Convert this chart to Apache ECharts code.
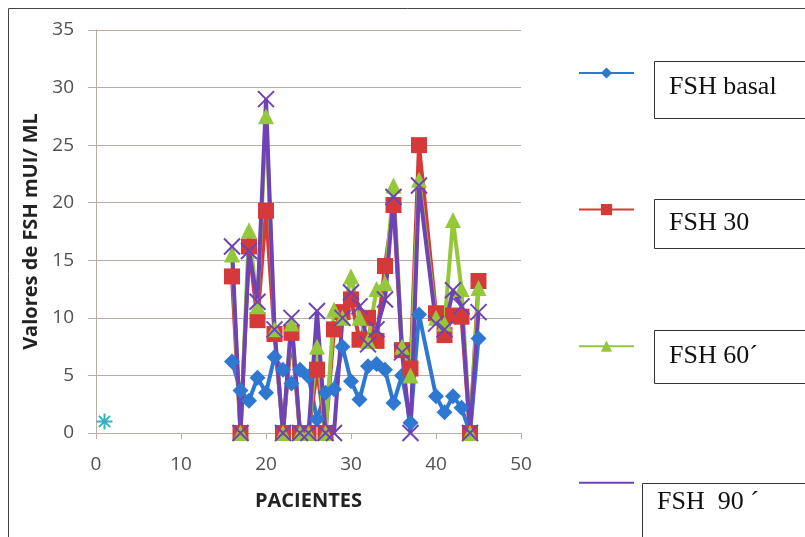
<!DOCTYPE html>
<html>
<head>
<meta charset="utf-8">
<script src="https://cdn.jsdelivr.net/npm/echarts@6.0.0/dist/echarts.min.js"></script>
<style>
    html, body { margin: 0; padding: 0; background: #fff; }
    #chart { width: 805px; height: 537px; }
</style>
</head>
<body>
<div id="chart"></div>
<script>
// pacientes (eje x) y valores de FSH
const pacientes = [16, 17, 18, 19, 20, 21, 22, 23, 24, 25, 26, 27, 28, 29, 30, 31, 32, 33, 34, 35, 36, 37, 38, 40, 41, 42, 43, 44, 45];
const fshBasal = [6.2, 3.7, 2.8, 4.8, 3.5, 6.6, 5.5, 4.3, 5.5, 4.9, 1.2, 3.5, 3.8, 7.5, 4.5, 2.9, 5.8, 6, 5.5, 2.6, 5, 0.9, 10.3, 3.2, 1.8, 3.2, 2.2, 0, 8.2];
const fsh30 = [13.6, 0, 16.2, 9.8, 19.3, 8.6, 0, 8.7, 0, 0, 5.5, 0, 9, 10.5, 11.6, 8.1, 10, 8, 14.5, 19.8, 7.2, 5.6, 25, 10.4, 8.5, 10.2, 10.1, 0, 13.2];
const fsh60 = [15.5, 0, 17.6, 11, 27.5, 9, 0, 9.5, 0, 0, 7.5, 0, 10.7, 10, 13.6, 10, 8, 12.5, 13, 21.5, 7.5, 5, 22, 10, 9.5, 18.5, 12.5, 0, 12.6];
const fsh90 = [16.2, 0, 15.8, 11.4, 29, 9, 0, 10, 0, 0, 10.6, 0, 0, 10, 12.2, 11, 7.7, 9, 11.6, 20.5, 7, 0, 21.5, 9.5, 9, 12.4, 11, 0, 10.5];
// punto suelto (asterisco)
const extraX = [1];
const extraY = [1];

const seriesNames = ['FSH basal', 'FSH 30', 'FSH 60´', 'FSH  90 ´'];

const pairs = (xs, ys) => xs.map((x, i) => [x, ys[i]]);

const gridColor = '#B9ADA6';
const labelColor = '#505050';

const chart = echarts.init(document.getElementById('chart'), null, { renderer: 'canvas' });

// cajas de texto de la leyenda
const boxes = [
    { x: 654, y: 61, w: 200, h: 57, tx: 669, ty: 87 },
    { x: 654, y: 199, w: 200, h: 49, tx: 669, ty: 223 },
    { x: 654, y: 330, w: 200, h: 53, tx: 669, ty: 356 },
    { x: 642, y: 483, w: 200, h: 100, tx: 657, ty: 502 }
];
const graphics = [{
    type: 'rect',
    shape: { x: 8.5, y: 8.5, width: 900, height: 600 },
    style: { fill: 'none', stroke: '#444', lineWidth: 1 },
    silent: true
}];
boxes.forEach((b, i) => {
    graphics.push({
        type: 'rect',
        shape: { x: b.x + 0.5, y: b.y + 0.5, width: b.w, height: b.h },
        style: { fill: '#fff', stroke: '#333', lineWidth: 1 },
        silent: true
    });
    graphics.push({
        type: 'text',
        x: b.tx,
        y: b.ty,
        style: {
            text: seriesNames[i],
            fill: '#111',
            font: '26px "Liberation Serif", "DejaVu Serif", serif',
            verticalAlign: 'middle',
            align: 'left'
        },
        silent: true
    });
});

const xPath = 'path://M0,0L10,10M10,0L0,10';
const starPath = 'path://M0,5L10,5M5,0L5,10M1.5,1.5L8.5,8.5M8.5,1.5L1.5,8.5';

chart.setOption({
    animation: false,
    backgroundColor: '#fff',
    grid: { left: 96, right: 284, top: 30, bottom: 104 },
    legend: {
        data: [
            { name: seriesNames[0] },
            { name: seriesNames[1] },
            { name: seriesNames[2] },
            { name: seriesNames[3], itemStyle: { borderWidth: 0, borderColor: 'none' } }
        ],
        orient: 'vertical',
        left: 573,
        top: 61,
        itemWidth: 55,
        itemHeight: 14,
        itemGap: 124,
        formatter: () => '',
        textStyle: { fontSize: 10 }
    },
    xAxis: {
        type: 'value',
        min: 0,
        max: 50,
        interval: 10,
        name: 'PACIENTES',
        nameLocation: 'middle',
        nameGap: 58,
        nameTextStyle: { fontFamily: 'Open Sans', fontWeight: 'bold', fontSize: 20, color: '#222' },
        axisLine: { show: true, lineStyle: { color: gridColor, width: 1 } },
        axisTick: { show: true, length: 6, lineStyle: { color: gridColor } },
        axisLabel: { margin: 22, color: labelColor, fontSize: 19, fontFamily: 'Open Sans' },
        splitLine: { show: false }
    },
    yAxis: {
        type: 'value',
        min: 0,
        max: 35,
        interval: 5,
        name: 'Valores de FSH mUI/ ML',
        nameLocation: 'middle',
        nameRotate: 90,
        nameGap: 52,
        nameTextStyle: { fontFamily: 'Open Sans', fontWeight: 'bold', fontSize: 20, color: '#222' },
        axisLine: { show: true, lineStyle: { color: gridColor, width: 1 } },
        axisTick: { show: true, length: 8, lineStyle: { color: gridColor } },
        axisLabel: { margin: 22, color: labelColor, fontSize: 19, fontFamily: 'Open Sans' },
        splitLine: { show: true, lineStyle: { color: gridColor, width: 1 } }
    },
    series: [
        {
            name: seriesNames[0],
            type: 'line',
            data: pairs(pacientes, fshBasal),
            symbol: 'diamond',
            symbolSize: 16,
            lineStyle: { color: '#2E78D2', width: 4 },
            itemStyle: { color: '#2E78D2' }
        },
        {
            name: seriesNames[1],
            type: 'line',
            data: pairs(pacientes, fsh30),
            symbol: 'rect',
            symbolSize: 16,
            lineStyle: { color: '#D6393A', width: 4 },
            itemStyle: { color: '#D6393A' }
        },
        {
            name: seriesNames[2],
            type: 'line',
            data: pairs(pacientes, fsh60),
            symbol: 'triangle',
            symbolSize: 16,
            lineStyle: { color: '#94C83A', width: 4 },
            itemStyle: { color: '#94C83A' }
        },
        {
            name: seriesNames[3],
            type: 'line',
            data: pairs(pacientes, fsh90),
            symbol: xPath,
            symbolSize: 16,
            lineStyle: { color: '#6F42B5', width: 4 },
            itemStyle: { color: 'none', borderColor: '#6F42B5', borderWidth: 2 }
        },
        {
            name: 'extra',
            type: 'line',
            data: pairs(extraX, extraY),
            symbol: starPath,
            symbolSize: 16,
            lineStyle: { color: '#33B2C2', width: 3 },
            itemStyle: { color: 'none', borderColor: '#33B2C2', borderWidth: 2 }
        }
    ],
    graphic: graphics
});
</script>
</body>
</html>
